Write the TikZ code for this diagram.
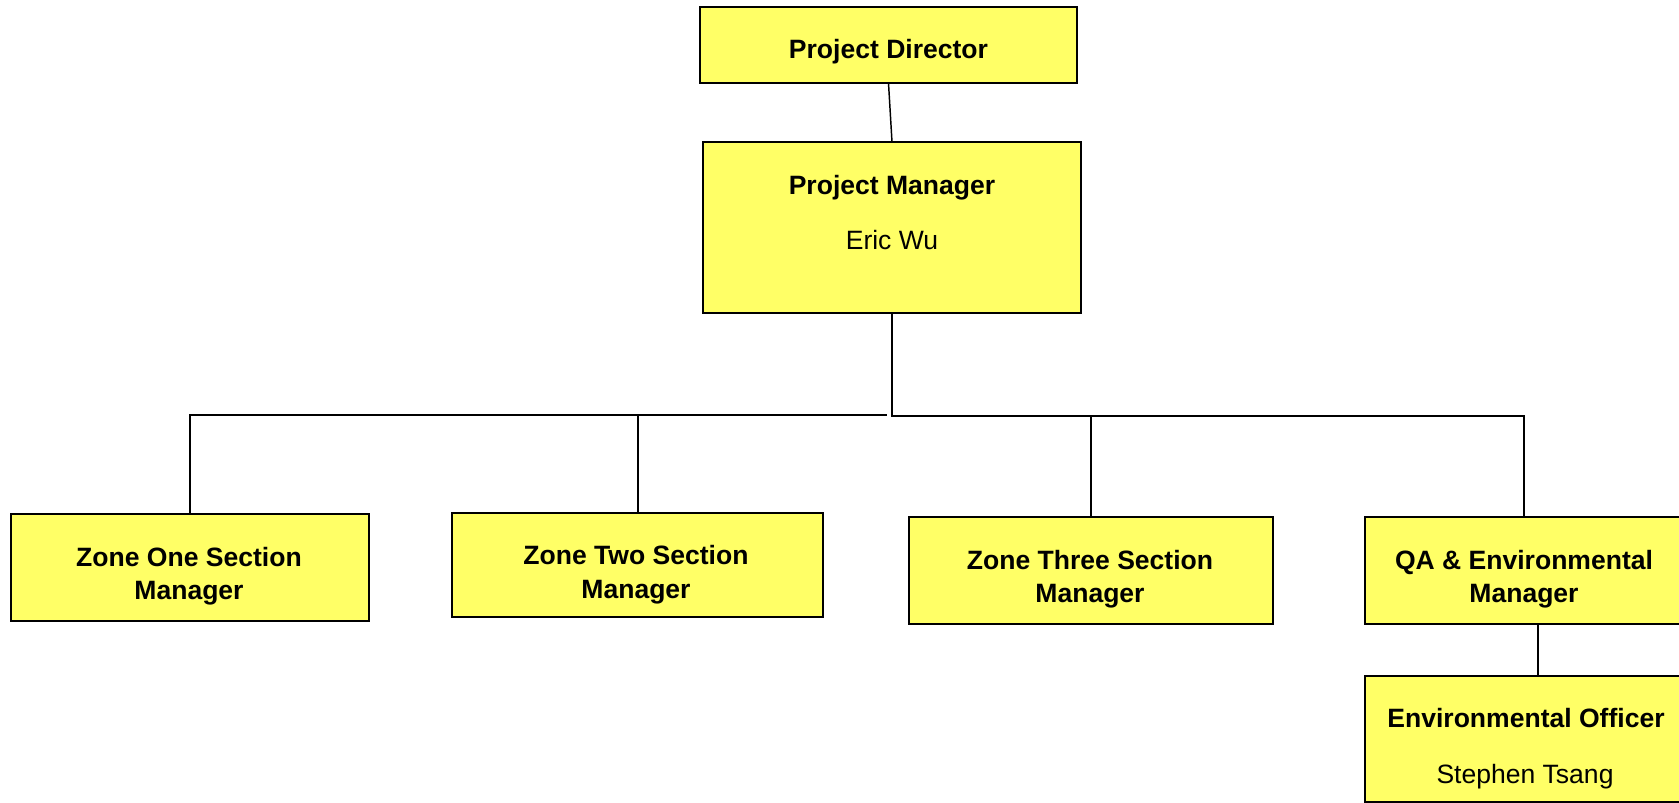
\documentclass[tikz,border=0pt]{standalone}
\usepackage{fontspec}
\setmainfont{Liberation Sans}
\definecolor{boxyellow}{RGB}{255,255,102}
\begin{document}
\begin{tikzpicture}[x=0.75pt,y=-0.75pt,
  orgbox/.style={draw=black,fill=boxyellow,line width=1.5pt,rectangle,inner sep=0pt,outer sep=0pt},
  conn/.style={draw=black,line width=1.5pt},
  lbl/.style={anchor=base,inner sep=0pt,font=\fontsize{19.9}{24}\selectfont\bfseries},
  nm/.style={anchor=base,inner sep=0pt,font=\fontsize{19.9}{24}\selectfont}]
\useasboundingbox (0,0) rectangle (1679,803);
\clip (0,0) rectangle (1679,803);
% boxes
\node[orgbox,minimum width=377*0.75pt,minimum height=76*0.75pt] (pd) at (888.5,45) {};
\node[orgbox,minimum width=378*0.75pt,minimum height=171*0.75pt] (pm) at (892,227.5) {};
\node[orgbox,minimum width=358*0.75pt,minimum height=107*0.75pt] (z1) at (190,567.5) {};
\node[orgbox,minimum width=371*0.75pt,minimum height=104*0.75pt] (z2) at (637.5,565) {};
\node[orgbox,minimum width=364*0.75pt,minimum height=107*0.75pt] (z3) at (1091,570.5) {};
\node[orgbox,minimum width=318*0.75pt,minimum height=107*0.75pt] (qa) at (1524,570.5) {};
\node[orgbox,minimum width=318*0.75pt,minimum height=126*0.75pt] (eo) at (1524,739) {};
% texts
\node[lbl] (pdt) at (888.5,58) {Project Director};
\node[lbl] (pmt) at (892,194) {Project Manager};
\node[nm] (pmn) at (892,249) {Eric Wu};
\node[lbl] (z1a) at (189,566) {Zone One Section};
\node[lbl] (z1b) at (189,599.5) {Manager};
\node[lbl] (z2a) at (636,564.5) {Zone Two Section};
\node[lbl] (z2b) at (636,598) {Manager};
\node[lbl] (z3a) at (1090,569) {Zone Three Section};
\node[lbl] (z3b) at (1090,602.5) {Manager};
\node[lbl] (qaa) at (1524,569) {QA \& Environmental};
\node[lbl] (qab) at (1524,602) {Manager};
\node[lbl] (eoa) at (1526,727) {Environmental Officer};
\node[nm] (eob) at (1525,783) {Stephen Tsang};
% junction coordinates
\coordinate (jl) at (887,415);
\coordinate (jr) at (892,416);
\coordinate (qx) at (1538,650);
% connectors
\draw[conn,line width=1.1pt] (pd.south) -- (pm.north);
\draw[conn] (pm.south) -- (jr) -- (jr -| qa.north) -- (qa.north);
\draw[conn] (z1.north) |- (jl);
\draw[conn] (z2.north) -- (z2.north |- jl);
\draw[conn] (z3.north) -- (z3.north |- jr);
\draw[conn] (qa.south -| qx) -- (eo.north -| qx);
\end{tikzpicture}
\end{document}
